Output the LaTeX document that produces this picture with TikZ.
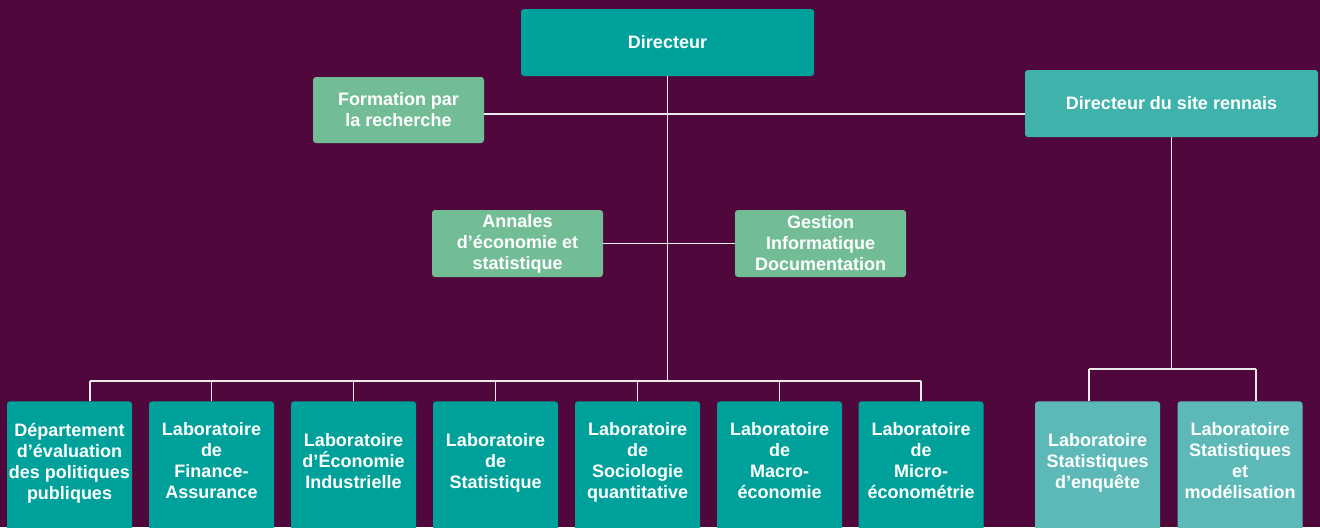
\documentclass[tikz,border=0pt]{standalone}
\usepackage{fontspec}
\setmainfont{Liberation Sans}
\usetikzlibrary{positioning, calc}
\definecolor{bgplum}{RGB}{80,7,60}
\definecolor{tealmain}{RGB}{0,161,154}
\definecolor{tealsite}{RGB}{64,178,172}
\definecolor{teallight}{RGB}{93,185,183}
\definecolor{greenbox}{RGB}{115,189,150}
\definecolor{linkgray}{RGB}{235,235,235}

\begin{document}
\begin{tikzpicture}[x=0.5pt, y=-0.5pt,
  every node/.style={rectangle, rounded corners=1.5pt, text=white, align=center, inner sep=0pt, font=\bfseries\fontsize{9}{10.5}\selectfont},
  headbox/.style={minimum width=146.5pt, minimum height=33.5pt},
  sidebox/.style={fill=greenbox, minimum width=85.5pt, minimum height=33.5pt},
  labbox/.style={fill=tealmain, minimum width=62.5pt, minimum height=66pt, text depth=6.5pt, anchor=north},
  link/.style={draw=linkgray, line width=0.6pt}]
  \fill[bgplum] (0,0) rectangle (1320,527);
  \clip (0,0) rectangle (1320,527);
  \node[headbox, fill=tealmain] (n0) at (667.5,42.5) {Directeur};
  \node[sidebox, minimum height=33pt] (n1) at (398.5,110) {Formation par\\la recherche};
  \node[headbox, fill=tealsite] (n2) at (1171.5,103.5) {Directeur du site rennais};
  \node[sidebox] (n3) at (517.5,243.5) {Annales\\d’économie et\\statistique};
  \node[sidebox] (n4) at (820.5,243.5) {Gestion\\Informatique\\Documentation};
  \node[labbox] (n5) at (69.5,401) {Département\\d’évaluation\\des politiques\\publiques};
  \node[labbox] (n6) at (211.5,401) {Laboratoire\\de\\Finance-\\Assurance};
  \node[labbox] (n7) at (353.5,401) {Laboratoire\\d’Économie\\Industrielle};
  \node[labbox] (n8) at (495.5,401) {Laboratoire\\de\\Statistique};
  \node[labbox] (n9) at (637.5,401) {Laboratoire\\de\\Sociologie\\quantitative};
  \node[labbox] (n10) at (779.5,401) {Laboratoire\\de\\Macro-\\économie};
  \node[labbox] (n11) at (921,401) {Laboratoire\\de\\Micro-\\économétrie};
  \node[labbox, fill=teallight] (n12) at (1097.5,401) {Laboratoire\\Statistiques\\d’enquête};
  \node[labbox, fill=teallight] (n13) at (1240,401) {Laboratoire\\Statistiques\\et\\modélisation};
  \coordinate (b0) at (667.5,381);
  \coordinate (b1) at (90,381);
  \coordinate (c0) at (667.5,114);
  \coordinate (c1) at (1089,369);
  \coordinate (c2) at (1256,369);
  \draw[link] (n0) -- (b0);
  \draw[link] (n1.east |- c0) -- (n2.west |- c0);
  \draw[link] (n3) -- (n4);
  \draw[link] (b1) -- (n11 |- b0);
  \draw[link] (b1) -- (b1 |- n5.north);
  \draw[link] (n6 |- b0) -- (n6);
  \draw[link] (n7 |- b0) -- (n7);
  \draw[link] (n8 |- b0) -- (n8);
  \draw[link] (n9 |- b0) -- (n9);
  \draw[link] (n10 |- b0) -- (n10);
  \draw[link] (n11 |- b0) -- (n11);
  \draw[link] (n2) -- (n2 |- c1);
  \draw[link] (c1) -- (c2);
  \draw[link] (c1) -- (c1 |- n12.north);
  \draw[link] (c2) -- (c2 |- n13.north);
\end{tikzpicture}
\end{document}
